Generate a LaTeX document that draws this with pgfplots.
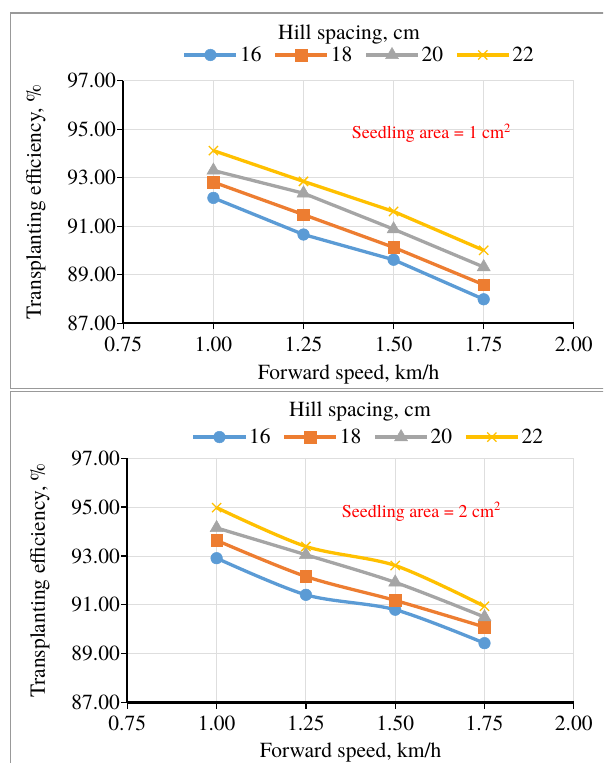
\documentclass[border=0pt]{standalone}
\usepackage{pgfplots}
\pgfplotsset{compat=1.18}
\usepackage{fontspec}
\setmainfont{texgyretermes-regular.otf}
\definecolor{c16}{HTML}{5B9BD5}
\definecolor{c18}{HTML}{ED7D31}
\definecolor{c20}{HTML}{A5A5A5}
\definecolor{c22}{HTML}{FFC000}
\newcommand{\bigf}{\fontsize{21.5}{25}\selectfont}
\pgfplotsset{
  myaxis/.style={
    scale only axis, anchor=south west,
    xmin=0.75, xmax=2, ymin=87, ymax=97,
    xtick={0.75,1,1.25,1.5,1.75,2}, ytick={87,89,91,93,95,97},
    axis x line*=bottom, axis y line*=left,
    x axis line style={-, line width=2.2pt, black},
    y axis line style={-, line width=2.2pt, black},
    grid=major, major grid style={line width=0.9pt, color=black!13},
    tick align=outside, major tick length=6pt,
    tick style={black, line width=1.3pt},
    ticklabel style={font=\bigf},
    xticklabel style={yshift=-4pt},
    yticklabel style={xshift=2pt},
    /pgf/number format/.cd, fixed, fixed zerofill, precision=2, assume math mode=true,
    /pgfplots/.cd,
    label style={font=\bigf},
    legend columns=4,
    legend style={draw=none, fill=none, font=\bigf, anchor=center,
      /tikz/every even column/.append style={column sep=10pt},
      /tikz/every odd column/.append style={column sep=0pt}},
    legend image code/.code={\draw[mark repeat=2,mark phase=2] plot coordinates {(0pt,0pt)(26pt,0pt)(52pt,0pt)};},
  },
  s16/.style={c16, line width=3.3pt, mark=*, mark size=5.8pt, mark options={solid, fill=c16, draw=c16, line width=0.5pt}},
  s18/.style={c18, line width=3.3pt, mark=square*, mark size=5.8pt, mark options={solid, fill=c18, draw=c18, line width=0.5pt}},
  s20/.style={c20, line width=3.3pt, mark=triangle*, mark size=7.5pt, mark options={solid, fill=c20, draw=c20, line width=0.5pt}},
  s22/.style={c22, line width=3.3pt, mark=x, mark size=6.5pt, mark options={solid, draw=c22, line width=1.3pt}},
}
\begin{document}
\begin{tikzpicture}
\useasboundingbox (0,0) rectangle (603pt,-763pt);
\begin{scope}
\clip (0,0) rectangle (603pt,-763pt);
\draw[black!40, line width=1.3pt] (10.5pt,-13pt) rectangle (640pt,-388.3pt);
\draw[black!40, line width=1.3pt] (10.5pt,-391.7pt) rectangle (640pt,-800pt);
\end{scope}
% ---------- top panel ----------
\begin{axis}[myaxis, at={(123.3pt,-323.3pt)}, width=450.5pt, height=242.6pt,
  xlabel={Forward speed, km/h}, ylabel={Transplanting efficiency, \%},
  xlabel style={at={(axis description cs:0.5,-0.213)}, anchor=center},
  ylabel style={at={(axis description cs:-0.194,0.5)}, anchor=center},
  legend style={at={(axis description cs:0.524,1.106)}},
]
\addplot[s16] coordinates {(1,92.17) (1.25,90.66) (1.5,89.62) (1.75,87.99)};
\addplot[s18] coordinates {(1,92.82) (1.25,91.48) (1.5,90.13) (1.75,88.59)};
\addplot[s20] coordinates {(1,93.30) (1.25,92.36) (1.5,90.88) (1.75,89.32)};
\addplot[s22] coordinates {(1,94.12) (1.25,92.85) (1.5,91.61) (1.75,90.01)};
\legend{16,18,20,22}
\end{axis}
\node[font=\bigf] at (349pt,-34pt) {Hill spacing, cm};
\node[anchor=west, font=\fontsize{18}{21}\selectfont, text=red, inner sep=0pt] at (351.7pt,-133pt) {Seedling area = 1 cm\textsuperscript{2}};
% ---------- bottom panel ----------
\begin{axis}[myaxis, at={(127.3pt,-702.5pt)}, width=446.5pt, height=244.2pt,
  xlabel={Forward speed, km/h}, ylabel={Transplanting efficiency, \%},
  xlabel style={at={(axis description cs:0.5,-0.203)}, anchor=center},
  ylabel style={at={(axis description cs:-0.196,0.5)}, anchor=center},
  legend style={at={(axis description cs:0.540,1.087)}},
]
\addplot[s16, smooth] coordinates {(1,92.91) (1.25,91.41) (1.5,90.80) (1.75,89.43)};
\addplot[s18, smooth] coordinates {(1,93.64) (1.25,92.16) (1.5,91.18) (1.75,90.09)};
\addplot[s20, smooth] coordinates {(1,94.15) (1.25,93.05) (1.5,91.92) (1.75,90.50)};
\addplot[s22, smooth] coordinates {(1,94.98) (1.25,93.39) (1.5,92.61) (1.75,90.94)};
\legend{16,18,20,22}
\end{axis}
\node[font=\bigf] at (360pt,-411pt) {Hill spacing, cm};
\node[anchor=west, font=\fontsize{18}{21}\selectfont, text=red, inner sep=0pt] at (341.7pt,-511.7pt) {Seedling area = 2 cm\textsuperscript{2}};
\end{tikzpicture}
\end{document}
